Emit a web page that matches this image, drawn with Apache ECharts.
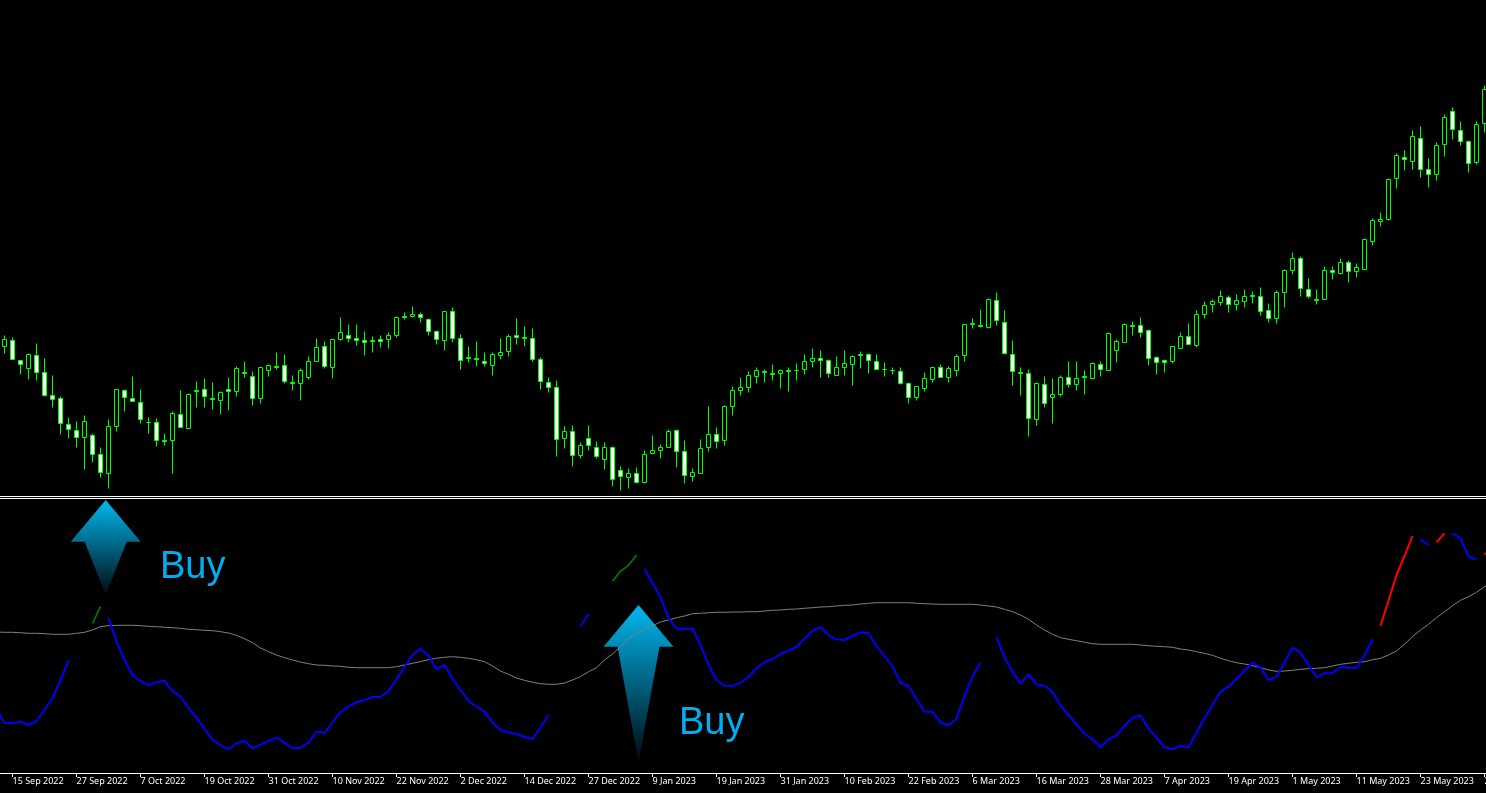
<!DOCTYPE html>
<html>
<head>
<meta charset="utf-8">
<title>Buy signals</title>
<style>
  html, body { margin: 0; padding: 0; background: #000; overflow: hidden; }
  #chart { width: 1486px; height: 793px; }
</style>
<script src="https://cdn.jsdelivr.net/npm/echarts@6/dist/echarts.min.js"></script>
</head>
<body>
<div id="chart"></div>
<script>
// Values. Price units are arbitrary, the source shows no price scale.
const opens = [
  149,156,136,127,141,124,101,98,72,66, 58,61,42,22,69,106,98,94,74,74,
  56,55,82,67,106,107,98,95,107,104, 124,120,97,125,130,131,114,112,118,134,
  150,128,156,161,158,156,156,157,156,160, 180,179,182,177,165,155,185,158,139,138,
  135,130,140,144,161,159,158,137,114,109, 57,65,40,58,49,36,49,26,18,23,
  13,42,45,48,66,45,19,22,48,62, 55,89,105,108,119,125,123,122,126,126,
  126,134,138,136,120,128,131,142,142,135, 127,126,125,113,98,107,116,129,118,125,
  140,171,171,168,196,174,142,124,123,76, 112,98,101,119,111,120,117,132,125,145,
  153,171,171,166,139,136,134,147,160,150, 181,191,193,199,191,194,201,200,186,177,
  203,225,238,207,197,196,226,222,234,224, 226,254,274,276,317,339,334,358,327,321,
  351,385,366,355,333,372
];
const closes = [
  157,136,131,142,123,100,96,72,66,58, 75,41,23,70,107,98,94,76,73,55,
  54,83,68,102,104,99,96,104,104,128, 122,97,129,131,128,114,112,126,135,149,
  129,157,164,157,155,153,154,154,161,179, 178,182,178,164,156,185,157,135,137,136,
  132,142,144,160,158,157,136,114,108,56, 65,40,51,50,39,49,16,19,23,13,
  42,46,49,65,44,20,24,48,62,54, 90,106,109,121,126,123,121,126,124,125,
  135,138,135,122,129,133,140,140,135,126, 126,125,112,98,110,118,129,118,128,140,
  172,173,169,197,175,142,124,122,77,113, 92,102,119,111,118,118,133,126,163,155,
  172,169,163,137,133,133,150,160,151,182, 191,195,200,191,196,200,199,184,177,204,
  226,238,207,199,195,226,223,234,224,229, 257,276,277,317,341,336,360,326,321,351,
  379,366,354,332,372,407
];
const lows = [
  142,136,121,116,115,99,88,61,57,48, 26,33,18,7,64,84,94,72,62,49,
  50,22,68,67,88,88,86,81,85,99, 118,90,92,119,126,112,105,95,116,134,
  127,117,155,153,150,140,143,148,147,158, 176,178,173,160,151,145,153,126,133,129,
  129,120,136,139,151,149,134,106,103,39, 47,29,37,45,37,26,9,5,7,12,
  12,41,37,48,28,12,14,22,44,47, 50,80,100,103,112,113,115,107,104,115,
  121,128,118,118,120,120,110,127,122,126, 119,121,111,92,95,104,113,118,113,119,
  134,167,168,167,170,141,110,100,59,70, 88,72,99,108,105,101,116,119,125,133,
  153,160,158,130,121,123,132,147,151,148, 177,183,190,183,185,188,192,180,173,172,
  188,221,199,197,191,196,216,221,213,218, 226,250,269,275,307,325,326,318,308,315,
  339,356,350,323,331,363
];
const highs = [
  161,159,136,143,153,138,121,100,79,75, 81,63,49,77,107,107,120,107,79,78,
  63,85,106,103,115,118,114,105,119,130, 135,125,129,132,144,142,121,128,140,158,
  155,157,179,172,172,165,160,161,164,180, 184,190,184,178,166,185,189,162,150,155,
  144,144,158,162,178,170,168,139,119,116, 70,71,54,71,55,54,50,30,28,29,
  46,61,52,67,67,56,28,57,90,69, 91,110,119,125,129,127,132,127,129,133,
  142,148,146,137,140,146,141,145,143,142, 134,129,129,114,110,124,129,132,130,142,
  172,178,187,198,204,186,156,129,127,114, 120,118,121,135,135,126,134,135,164,157,
  173,175,179,167,140,137,150,164,173,186, 195,197,206,201,202,207,205,209,193,206,
  227,244,240,218,207,230,230,238,236,233, 258,278,284,318,343,346,366,370,338,354,
  382,389,375,356,375,411
];

// Oscillator, one value per bar, with one extra bar each side so the line runs off the edges.
const oscillator = [
  63,
  50.3,50,51.3,48,52,63,74.7,93,112.3,null, null,149.7,166.3,155.3,131.3,113,98,92,87.7,91,
  92.3,81.7,76.7,64.7,55.3,44,33.3,27.7,23.7,29.7, 32.3,24.7,28.3,32,35.3,30.3,25,25,30.3,41.7,
  40,50.3,61,66.7,70.7,72.7,76,76.3,81.7,94, 106,118,124.3,117.3,103.7,108,94.3,83,72.3,66.3,
  61.3,50.7,42.7,40.7,39,36.3,33.7,45.7,58,null, null,null,147,158.7,null,null,191.7,201.7,207.7,217.7,
  204.3,189.7,175.7,154.7,144.3,144.3,144.3,128,108,93, 87.3,87,90.3,96.3,104.7,110.7,114,119,122.7,126,
  134.3,142.3,145.7,137.7,133.7,133,137,140.7,139.7,127, 117,107,90,87,74,61.3,61.3,50.3,47.7,54.3,
  77,96.3,110.3,null,135.7,115.7,101.3,89.7,98.7,88.7, 87.3,81.3,67.3,58,48.7,39.3,33.7,25.7,33.7,37.7,
  47.3,55,57.7,44.3,35.3,25.7,23.7,27.3,25.7,40.3, 54.7,68,81.3,86.3,94,102.3,110.3,105.3,93,96.3,
  110.3,125.3,120.3,108,95.7,99.7,100,106,105.3,105.3, 117.3,133.7,147.3,172.3,198,217,237,233.7,227.7,230.7,
  239.7,239.7,234.7,216.3,213.7,219,222.3
];
const signal = [
  141,
  140.7,140.7,140.3,139.7,139.7,139.3,138.7,138.7,138.7,139.7, 140.7,143,146.3,147.3,147.7,147.7,147.7,147.3,146.7,146.3,
  145.7,145.3,144.7,143.7,143.3,142.7,142.3,141.3,140,137.7, 134.3,130.3,125,121.3,118,115.3,113,111,109.3,108,
  107.7,107,106.7,105.7,105.3,105.3,105.3,105.3,105.3,106.3, 108,109.7,111.3,113.3,114.7,115.7,116.3,115.7,114.7,113.3,
  111.3,107,102,98.7,95,92.7,90.7,89.3,88.7,88.7, 90,93,96.3,101.3,105.3,113,119,126.3,134.7,139.3,
  144.7,147.3,151,153,155.3,157,159.3,159.7,160.3,160.7, 160.7,161,161,161.3,161.3,162,162.7,163,163.7,164,
  164.7,165.3,166,166.3,167,167.7,168,169,169.7,170.3, 170.3,170.3,170.3,170.3,169.7,169.3,169,168.7,168.7,168.7,
  168.7,168.7,168,167,166,163.7,161.3,158,153.7,148, 143,138.7,135.3,133.7,132.3,130.7,129.3,128.7,128.7,128.7,
  128.7,128.7,128,127.3,126.7,126.3,125.7,124,123,121.3, 119.7,117.7,114.7,112.3,110.3,109,107.3,105.3,103,101.7,
  102,102.7,103.7,104.3,104.7,105.3,107,108.7,109.7,110.7, 111.3,113.3,114.7,118,122,128.7,136.3,143,148.7,155.3,
  161.3,167.3,172.7,176.3,180.7,186.3,190.7
];

// Bar ranges where the oscillator changes colour, blue everywhere else.
const greenBars = [[11, 12], [76, 79]];
const redBars = [[172, 176], [179, 180], [185, 186]];

const tickLabels = [
  '15 Sep 2022', '27 Sep 2022', '7 Oct 2022', '19 Oct 2022', '31 Oct 2022', '10 Nov 2022',
  '22 Nov 2022', '2 Dec 2022', '14 Dec 2022', '27 Dec 2022', '9 Jan 2023', '19 Jan 2023',
  '31 Jan 2023', '10 Feb 2023', '22 Feb 2023', '6 Mar 2023', '16 Mar 2023', '28 Mar 2023',
  '7 Apr 2023', '19 Apr 2023', '1 May 2023', '11 May 2023', '23 May 2023', '2 Jun 2023'
];

const BAR_STEP = 8;
const TICK_EVERY = 8;
const FIRST_TICK = 2; // category slot of '15 Sep 2022'

// slot 0 is the bar before the first visible one, the last slot the bar after the last one
const slots = oscillator.map((_, k) => String(k - 1));

// Lower edges were read as the edge below the last lit row, so they sit one unit high.
const candles = [[null, null, null, null]].concat(
  opens.map((o, i) => {
    const c = closes[i];
    return c > o ? [o + 1, c, lows[i] + 1, highs[i]] : [o, c + 1, lows[i] + 1, highs[i]];
  })
);

const inBars = (k, ranges) => ranges.some(([a, b]) => k - 1 >= a && k - 1 <= b);
const blueLine = oscillator.map((v, k) => (inBars(k, greenBars) || inBars(k, redBars) ? null : v));
const greenLine = oscillator.map((v, k) => (inBars(k, greenBars) ? v : null));
const redLine = oscillator.map((v, k) => (inBars(k, redBars) ? v : null));
const isTick = (k) => k >= FIRST_TICK && (k - FIRST_TICK) % TICK_EVERY === 0;

function oscSeries(data, color, width) {
  return {
    type: 'line', xAxisIndex: 1, yAxisIndex: 1, data,
    showSymbol: false, connectNulls: false, silent: true, z: 4,
    lineStyle: { color, width }
  };
}

function arrow(cx, tipY, wingY, tailY, wing, shaft) {
  return {
    type: 'polygon',
    shape: {
      points: [
        [cx, tipY], [cx + wing, wingY], [cx + shaft, wingY], [cx, tailY],
        [cx - shaft, wingY], [cx - wing, wingY]
      ]
    },
    style: {
      fill: new echarts.graphic.LinearGradient(0, 0, 0, 1, [
        { offset: 0, color: '#00b8f0' },
        { offset: 1, color: '#000a10' }
      ])
    }
  };
}

function buyText(x, y) {
  return {
    type: 'text', x, y,
    style: {
      text: 'Buy', fill: '#00aeef', font: '38px "Liberation Sans"',
      align: 'left', verticalAlign: 'top'
    }
  };
}

const chart = echarts.init(document.getElementById('chart'), null, { renderer: 'canvas', width: 1486, height: 793 });
const gridWidth = slots.length * BAR_STEP;

chart.setOption({
  animation: false,
  backgroundColor: '#000',
  grid: [
    // top 0.5 keeps whole price units on pixel centres, candle bodies are not snapped vertically
    { left: -7.5, top: 0.5, width: gridWidth, height: 496, outerBoundsMode: 'none' },
    { left: -7.5, top: 498, width: gridWidth, height: 275, outerBoundsMode: 'none' }
  ],
  xAxis: [
    { type: 'category', gridIndex: 0, data: slots, show: false },
    {
      type: 'category', gridIndex: 1, data: slots,
      axisLine: { show: true, lineStyle: { color: '#fff', width: 1 } },
      axisTick: { show: true, alignWithLabel: true, interval: (k) => isTick(k), length: 4, lineStyle: { color: '#fff' } },
      axisLabel: {
        interval: (k) => isTick(k),
        formatter: (_, k) => tickLabels[(k - FIRST_TICK) / TICK_EVERY],
        color: '#fff', fontFamily: 'Noto Sans', fontSize: 9, align: 'left', margin: 4
      }
    }
  ],
  yAxis: [
    { type: 'value', gridIndex: 0, min: 0, max: 496, show: false },
    { type: 'value', gridIndex: 1, min: 0, max: 275, show: false }
  ],
  graphic: [
    { type: 'rect', shape: { x: 0, y: 496, width: 1486, height: 1 }, style: { fill: '#fff' } },
    { type: 'rect', shape: { x: 0, y: 498, width: 1486, height: 1 }, style: { fill: '#fff' } },
    arrow(105.7, 500, 541.7, 595, 35, 21),
    arrow(638.5, 605, 646.7, 762, 35, 21),
    buyText(160, 549),
    buyText(679, 705)
  ],
  series: [
    {
      type: 'candlestick', xAxisIndex: 0, yAxisIndex: 0, data: candles,
      barWidth: 4, silent: true,
      itemStyle: { color: '#000', color0: '#fff', borderColor: '#00ff00', borderColor0: '#00ff00', borderWidth: 1 }
    },
    oscSeries(signal, '#808080', 1),
    oscSeries(blueLine, '#0000ff', 2),
    oscSeries(greenLine, '#008000', 1.5),
    oscSeries(redLine, '#ff0000', 2)
  ]
});
</script>
</body>
</html>
